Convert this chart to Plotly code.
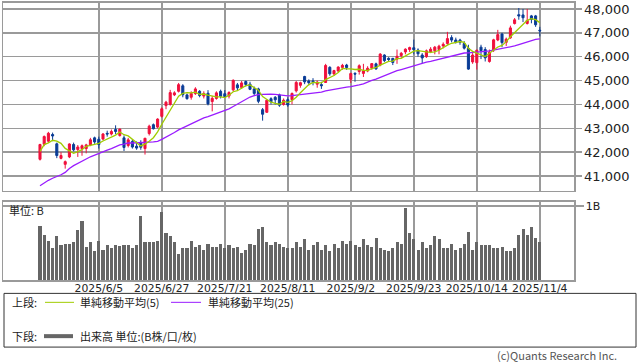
import plotly.graph_objects as go
import pandas as pd

dates = ["2025/5/15","2025/5/16","2025/5/19","2025/5/20","2025/5/21","2025/5/22","2025/5/23","2025/5/27","2025/5/28","2025/5/29","2025/5/30",
         "2025/6/2","2025/6/3","2025/6/4","2025/6/5","2025/6/6","2025/6/9","2025/6/10","2025/6/11","2025/6/12","2025/6/13","2025/6/16","2025/6/17","2025/6/18","2025/6/20","2025/6/23","2025/6/24","2025/6/25","2025/6/26","2025/6/27","2025/6/30",
         "2025/7/1","2025/7/2","2025/7/3","2025/7/7","2025/7/8","2025/7/9","2025/7/10","2025/7/11","2025/7/14","2025/7/15","2025/7/16","2025/7/17","2025/7/18","2025/7/21","2025/7/22","2025/7/23","2025/7/24","2025/7/25","2025/7/28","2025/7/29","2025/7/30","2025/7/31",
         "2025/8/1","2025/8/4","2025/8/5","2025/8/6","2025/8/7","2025/8/8","2025/8/11","2025/8/12","2025/8/13","2025/8/14","2025/8/15","2025/8/18","2025/8/19","2025/8/20","2025/8/21","2025/8/22","2025/8/25","2025/8/26","2025/8/27","2025/8/28","2025/8/29",
         "2025/9/2","2025/9/3","2025/9/4","2025/9/5","2025/9/8","2025/9/9","2025/9/10","2025/9/11","2025/9/12","2025/9/15","2025/9/16","2025/9/17","2025/9/18","2025/9/19","2025/9/22","2025/9/23","2025/9/24","2025/9/25","2025/9/26","2025/9/29","2025/9/30",
         "2025/10/1","2025/10/2","2025/10/3","2025/10/6","2025/10/7","2025/10/8","2025/10/9","2025/10/10","2025/10/13","2025/10/14","2025/10/15","2025/10/16","2025/10/17","2025/10/20","2025/10/21","2025/10/22","2025/10/23","2025/10/24","2025/10/27","2025/10/28","2025/10/29","2025/10/30","2025/10/31",
         "2025/11/3","2025/11/4"]

opens = [41700,42330,42460,42740,42350,41740,41490,41800,42320,42110,42150,
         42150,42300,42600,42540,42550,42790,42760,42950,42700,42600,42280,42450,42250,42400,42150,42780,43150,43050,43500,43950,
         44000,44400,44550,44780,44400,44300,44450,44550,44350,44470,44120,44250,44550,44450,44350,44610,44820,44710,44960,44850,44650,44650,
         43780,43670,44240,44300,44400,44000,44200,44200,44570,44800,45170,44980,44980,44850,44830,44920,45555,45280,45400,45550,45650,
         45050,45300,45380,45300,45400,45520,45700,45650,46070,45930,45930,45900,46050,46200,46300,46375,46280,46070,46000,46200,46250,
         46300,46450,46555,46800,46700,46700,46550,46350,45780,45750,46400,46300,45800,46280,46700,46950,46600,46790,47390,47760,47750,47390,47710,
         47710,47110]

highs = [42350,42700,42850,42820,42400,42000,41650,42370,42400,42300,42320,
         42350,42600,42650,42650,42800,42900,42950,43125,42990,42700,42600,42550,42450,42500,42600,43150,43200,43420,43880,44150,
         44610,44550,44900,44850,44450,44550,44720,44600,44550,44600,44350,44550,44620,44600,44550,45050,44900,44980,45000,44950,44750,44700,
         43850,44200,44300,44350,44450,44250,44300,44500,44980,44950,45200,45050,45100,45000,44950,45700,45600,45450,45600,45700,45700,
         45330,45350,45680,45700,45600,45720,45750,46150,46100,45980,45950,46300,46200,46350,46420,46714,46350,46150,46300,46400,46450,
         46500,46600,47040,46900,46800,46750,46650,46500,46150,46300,46500,46400,46300,46750,47125,47000,46800,47300,47620,48040,48000,48000,47750,
         47750,47250]

lows = [41650,42250,42400,42460,41750,41700,41310,41750,42040,41800,41850,
        41950,42250,42350,42150,42500,42650,42700,42750,42650,42050,42200,42150,42100,42100,41900,42700,42950,43000,43450,43800,
        43950,44350,44500,44300,44200,44200,44400,44300,44250,43960,43710,44200,44250,44280,44250,44550,44600,44650,44750,44600,44350,44050,
        43320,43650,44000,44000,43900,43950,43900,44000,44500,44700,44850,44800,44800,44700,44650,44900,45200,45200,45350,45450,45450,
        44900,44950,45250,45150,45350,45450,45450,45600,45780,45800,45650,45700,45950,46100,46200,46100,46000,45730,45950,46150,46100,
        46100,46350,46500,46600,46550,46500,46300,45450,45700,45460,45900,45800,45750,46200,46650,46400,46450,46750,47350,47550,47450,47350,47400,
        47250,46850]

closes = [42322,42654,42792,42677,41860,41859,41603,42343,42098,42216,42270,
          42305,42519,42427,42319,42762,42761,42867,42865,42968,42197,42515,42215,42172,42206,42582,43089,42982,43386,43819,44095,
          44495,44484,44829,44406,44241,44458,44651,44371,44460,44023,44254,44484,44342,44323,44502,45010,44694,44902,44838,44633,44461,44131,
          43589,44174,44112,44193,43969,44176,43975,44459,44922,44911,44946,44912,44922,44938,44786,45632,45282,45418,45565,45637,45545,
          45296,45271,45621,45401,45515,45711,45490,46108,45834,45883,45758,46018,46142,46315,46382,46292,46121,45947,46247,46316,46398,
          46441,46520,46758,46695,46603,46602,46358,45480,46068,46270,46253,45952,46191,46707,46925,46590,46735,47207,47545,47706,47632,47522,47563,
          47337,47085]

# closes of the 24 sessions before the first visible day (used only for the moving averages)
prior_closes = [39593,40212,40524,40368,39669,39142,38170,39187,39607,40093,40113,40227,
                40527,40669,40753,41317,41219,40829,41114,41368,41249,42410,42140,42051]

volumes = [0.73,0.61,0.53,0.44,0.60,0.48,0.49,0.49,0.52,0.67,
           0.80,0.45,0.51,0.40,0.53,0.41,0.48,0.44,0.47,0.46,
           0.48,0.47,0.43,0.48,0.87,0.51,0.52,0.52,0.53,0.92,
           0.63,0.59,0.51,0.35,0.44,0.44,0.53,0.45,0.47,0.41,
           0.49,0.45,0.45,0.49,0.44,0.48,0.44,0.45,0.37,0.41,
           0.49,0.47,0.69,0.71,0.52,0.47,0.52,0.49,0.45,0.43,
           0.44,0.52,0.45,0.55,0.41,0.47,0.51,0.41,0.48,0.39,
           0.49,0.43,0.53,0.49,0.53,0.48,0.45,0.56,0.47,0.45,
           0.57,0.44,0.41,0.40,0.44,0.51,0.49,0.97,0.63,0.55,
           0.41,0.51,0.44,0.48,0.59,0.55,0.44,0.43,0.49,0.41,
           0.43,0.49,0.65,0.41,0.51,0.48,0.48,0.48,0.44,0.44,
           0.45,0.40,0.40,0.43,0.61,0.69,0.61,0.72,0.57,0.51]

tick_dates = ["2025/6/5","2025/6/27","2025/7/21","2025/8/11","2025/9/2","2025/9/23","2025/10/14","2025/11/4"]
price_ticks = [41000,42000,43000,44000,45000,46000,47000,48000]

allc = pd.Series(prior_closes + closes, dtype=float)
n_prior = len(prior_closes)
ma5 = allc.rolling(5).mean().iloc[n_prior:].tolist()
ma25 = allc.rolling(25).mean().iloc[n_prior:].tolist()

W, H = 638, 362
def px(x): return x / W
def py(y): return 1 - y / H

RED = "#f0103c"
BLUE = "#0a3c96"
GRID = "#9a9a9a"
FONT_NUM = "DejaVu Sans"
FONT_JP = "Noto Sans CJK JP"

fig = go.Figure()
fig.add_trace(go.Candlestick(
    x=dates, open=opens, high=highs, low=lows, close=closes,
    increasing=dict(line=dict(color=RED, width=1), fillcolor=RED),
    decreasing=dict(line=dict(color=BLUE, width=1), fillcolor=BLUE),
    whiskerwidth=0, xaxis="x", yaxis="y", hoverinfo="skip"))
fig.add_trace(go.Scatter(x=dates, y=ma25, mode="lines",
                         line=dict(color="#9a1cff", width=1.3), xaxis="x", yaxis="y"))
fig.add_trace(go.Scatter(x=dates, y=ma5, mode="lines",
                         line=dict(color="#a0cc00", width=1.3), xaxis="x", yaxis="y"))
fig.add_trace(go.Bar(x=dates, y=volumes, marker=dict(color="#666666", line=dict(width=0)),
                     width=0.72, xaxis="x2", yaxis="y2"))

xr = [-8.81, 127.14]
common_x = dict(type="category", categoryorder="array", categoryarray=dates,
                range=xr, tickvals=tick_dates, ticktext=tick_dates,
                showgrid=True, gridcolor=GRID, gridwidth=1.5,
                showline=True, linecolor=GRID, linewidth=1.5, mirror=True,
                ticks="", zeroline=False, fixedrange=True)

fig.update_layout(
    width=W, height=H, margin=dict(l=0, r=0, t=0, b=0),
    paper_bgcolor="white", plot_bgcolor="white", showlegend=False,
    bargap=0,
    xaxis=dict(**common_x, domain=[px(3), px(574)], anchor="y",
               showticklabels=False, rangeslider=dict(visible=False)),
    yaxis=dict(domain=[py(190), py(1)], range=[40375, 48250], side="right",
               tickvals=price_ticks, tickformat=",d", anchor="x",
               showgrid=True, gridcolor=GRID, gridwidth=1.5,
               showline=True, linecolor=GRID, linewidth=1.5, mirror=True,
               ticks="outside", ticklen=6, tickcolor=GRID, tickwidth=1.5,
               tickfont=dict(family=FONT_NUM, size=13, color="#222"), zeroline=False),
    xaxis2=dict(**common_x, domain=[px(3), px(574)], anchor="y2",
                showticklabels=True, ticklabelstandoff=-3,
                tickfont=dict(family=FONT_NUM, size=10.8, color="#222")),
    yaxis2=dict(domain=[py(280), py(201)], range=[0, 1.053], side="right",
                tickvals=[1], ticktext=["1B"], anchor="x2",
                showgrid=True, gridcolor=GRID, gridwidth=1.5,
                showline=True, linecolor=GRID, linewidth=1.5, mirror=True,
                ticks="outside", ticklen=8, tickcolor=GRID, tickwidth=1.5,
                tickfont=dict(family=FONT_NUM, size=11, color="#222"), zeroline=False),
)

ann = []
def txt(x, y, s, anchor="left", size=11, color="#222", family=FONT_JP):
    ann.append(dict(x=px(x), y=py(y), xref="paper", yref="paper", text=s, showarrow=False,
                    xanchor=anchor, yanchor="middle", font=dict(family=family, size=size, color=color)))

txt(7, 209, "単位: B")
txt(10, 302, "上段:")
txt(78, 302, "単純移動平均(5)")
txt(206, 302, "単純移動平均(25)")
txt(10, 336, "下段:")
txt(78, 336, "出来高 単位:(B株/口/枚)")
txt(619, 355, "(c)Quants Research Inc.", anchor="right", size=11, color="#555")
fig.update_layout(annotations=ann)

shapes = [
    dict(type="rect", xref="paper", yref="paper", x0=px(4), x1=px(636), y0=py(347), y1=py(293),
         line=dict(color="#333", width=1)),
    dict(type="line", xref="paper", yref="paper", x0=px(45), x1=px(74), y0=py(302), y1=py(302),
         line=dict(color="#a0cc00", width=1)),
    dict(type="line", xref="paper", yref="paper", x0=px(171), x1=px(201), y0=py(302), y1=py(302),
         line=dict(color="#9a1cff", width=1)),
    dict(type="line", xref="paper", yref="paper", x0=px(44), x1=px(73), y0=py(336), y1=py(336),
         line=dict(color="#666666", width=4)),
]
fig.update_layout(shapes=shapes)

fig.write_html("out.html", config={"displayModeBar": False, "staticPlot": True},
               post_script="document.body.style.margin='0';document.body.style.padding='0';"
                           "document.documentElement.style.overflow='hidden';")
